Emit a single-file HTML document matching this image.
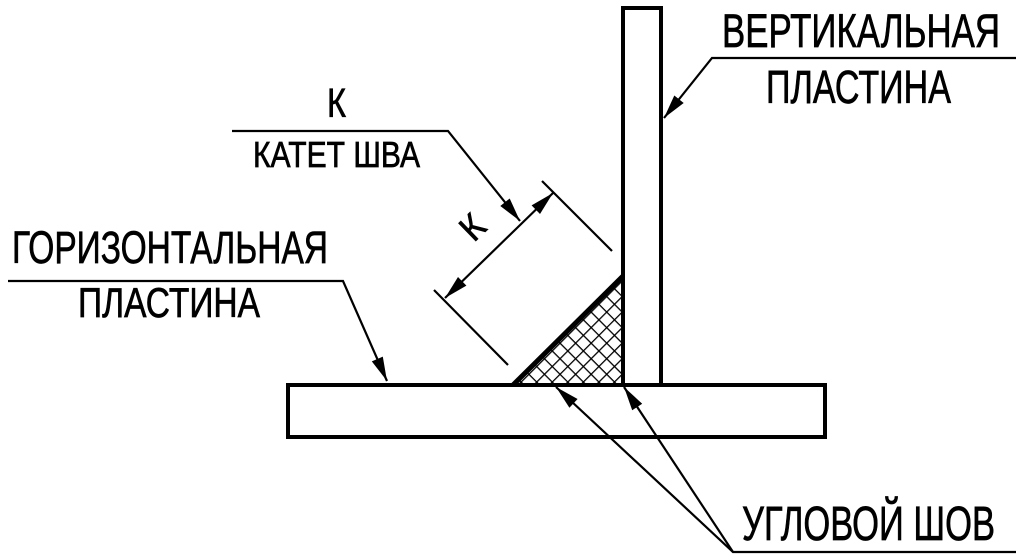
<!DOCTYPE html>
<html><head><meta charset="utf-8"><style>
html,body{margin:0;padding:0;background:#fff;}
svg{display:block;}
text{font-family:"Liberation Sans","DejaVu Sans",sans-serif;fill:#000;stroke:#000;stroke-width:0.7;}
</style></head><body>
<svg width="1024" height="559" viewBox="0 0 1024 559" xmlns="http://www.w3.org/2000/svg">
<defs>
<pattern id="h" patternUnits="userSpaceOnUse" width="11" height="11" patternTransform="rotate(45)">
<line x1="0" y1="0" x2="0" y2="11" stroke="#000" stroke-width="2.6"/>
<line x1="0" y1="0" x2="11" y2="0" stroke="#000" stroke-width="2.6"/>
</pattern>
</defs>
<rect width="1024" height="559" fill="#fff"/>
<polygon points="513,385 623,385 623,276" fill="url(#h)"/>
<line x1="513" y1="385" x2="623" y2="276" stroke="#000" stroke-width="5"/>
<rect x="288" y="385" width="537" height="52" fill="none" stroke="#000" stroke-width="4"/>
<rect x="623" y="8" width="38" height="377" fill="#fff" stroke="#000" stroke-width="4"/>
<g stroke="#000" stroke-width="2.2" fill="none">
<line x1="542" y1="181" x2="612" y2="251"/>
<line x1="434" y1="290" x2="508" y2="365"/>
<line x1="445" y1="298" x2="553" y2="193"/>
<polyline points="232,131 448,131 520,221"/>
<polyline points="1016,58 712,58 664,118"/>
<polyline points="8,281 343,281 387,381"/>
<polyline points="1016,552 733,552 556,387"/>
<line x1="733" y1="552" x2="624" y2="387"/>
</g>
<g fill="#000">
<polygon points="520,221 500.3,206 509.7,198.5"/>
<polygon points="553,193 540,214 531.6,205.4"/>
<polygon points="445,298 466.4,285.6 458,277"/>
<polygon points="664,118 683.7,103 674.3,95.5"/>
<polygon points="387,381 371.8,361.4 382.8,356.6"/>
<polygon points="556,387 577.6,399 569.4,407.8"/>
<polygon points="624,387 642.2,403.7 632.2,410.3"/>
</g>
<text x="0" y="0" font-size="36" text-anchor="middle" transform="translate(481,236) rotate(-44)" textLength="20" lengthAdjust="spacingAndGlyphs">К</text>
<text x="327" y="117" font-size="41" textLength="19" lengthAdjust="spacingAndGlyphs">К</text>
<text x="253" y="167" font-size="36" textLength="167" lengthAdjust="spacingAndGlyphs">КАТЕТ ШВА</text>
<text x="722" y="47" font-size="47" textLength="278" lengthAdjust="spacingAndGlyphs">ВЕРТИКАЛЬНАЯ</text>
<text x="766" y="103" font-size="46" textLength="185" lengthAdjust="spacingAndGlyphs">ПЛАСТИНА</text>
<text x="12" y="263" font-size="45" textLength="316" lengthAdjust="spacingAndGlyphs">ГОРИЗОНТАЛЬНАЯ</text>
<text x="78" y="317" font-size="42" textLength="182" lengthAdjust="spacingAndGlyphs">ПЛАСТИНА</text>
<text x="742" y="540" font-size="48" textLength="253" lengthAdjust="spacingAndGlyphs">УГЛОВОЙ ШОВ</text>
</svg>
</body></html>
